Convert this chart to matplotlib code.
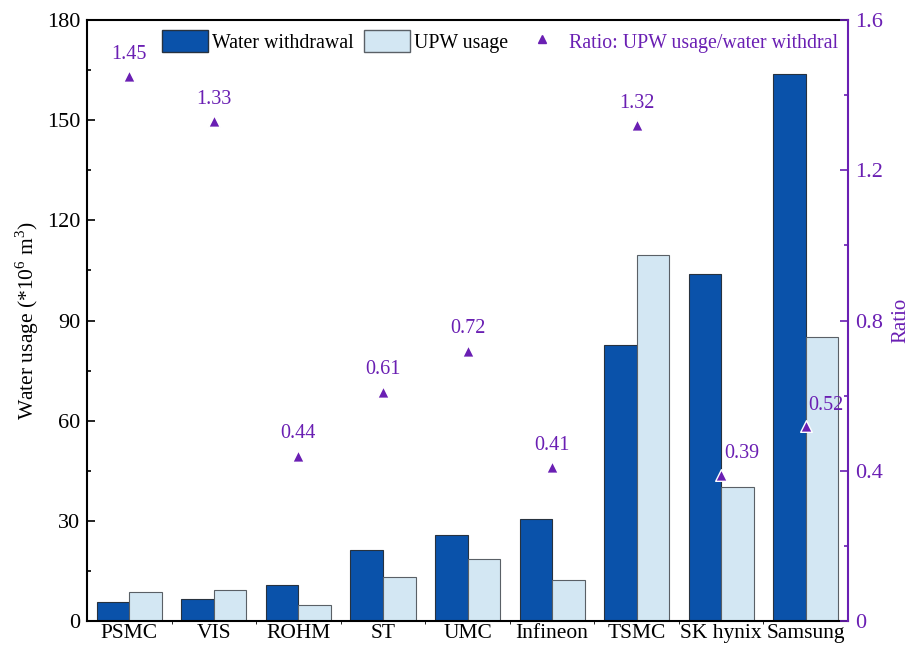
import numpy as np
import matplotlib.pyplot as plt
from matplotlib.lines import Line2D
from matplotlib.patches import Patch

plt.rcParams['font.family'] = ['Liberation Serif', 'DejaVu Serif']
plt.rcParams['mathtext.fontset'] = 'custom'
plt.rcParams['mathtext.rm'] = 'Liberation Serif'

# ===== 数据 =====
companies = ["PSMC", "VIS", "ROHM", "ST", "UMC", "Infineon", "TSMC", "SK hynix", "Samsung"]
withdrawal = [5.7, 6.6, 10.7, 21.4, 25.9, 30.5, 82.8, 104.0, 163.8]
upw_usage = [8.6, 9.2, 4.8, 13.1, 18.5, 12.3, 109.5, 40.0, 85.0]
ratio = [1.45, 1.33, 0.44, 0.61, 0.72, 0.41, 1.32, 0.39, 0.52]
ratio_labels = ["1.45", "1.33", "0.44", "0.61", "0.72", "0.41", "1.32", "0.39", "0.52"]

dark_blue = '#0a52aa'
light_blue = '#d3e7f3'
purple = '#6a1fb3'

fig = plt.figure(figsize=(9.13, 6.46), dpi=100)
ax = fig.add_axes([0.0953, 0.0387, 0.8335, 0.9303])
ax2 = ax.twinx()

x = np.arange(len(companies))
w = 0.385
ax.bar(x - w / 2, withdrawal, w, color=dark_blue, edgecolor='#27323f', linewidth=0.8, zorder=2)
ax.bar(x + w / 2, upw_usage, w, color=light_blue, edgecolor='#5a6066', linewidth=0.8, zorder=2)

ax.set_xlim(-0.5, len(companies) - 0.5)
ax.set_ylim(0, 180)
ax.set_yticks(np.arange(0, 181, 30))
ax.set_yticks(np.arange(15, 180, 30), minor=True)
ax.set_xticks(x)
ax.set_xticklabels(companies, fontsize=15.5)
ax.set_xticks(x[:-1] + 0.5, minor=True)
ax.tick_params(axis='x', which='major', length=0, pad=2)
ax.tick_params(axis='x', which='minor', length=2, direction='out')
ax.tick_params(axis='y', which='major', direction='in', length=6, width=1.2, labelsize=16, pad=5)
ax.tick_params(axis='y', which='minor', direction='in', length=3, width=1.2)
ax.set_ylabel("Water usage (*10$^6$ m$^3$)", fontsize=15.5, labelpad=4)
for s in ['left', 'bottom', 'top']:
    ax.spines[s].set_linewidth(1.5)
ax.spines['right'].set_visible(False)

# ===== 比值 =====
ax2.scatter(x, ratio, marker='^', s=70, color=purple, edgecolors='white', linewidths=1.0, zorder=5)
ax2.set_ylim(0, 1.6)
ax2.set_yticks(np.arange(0, 1.61, 0.4))
ax2.set_yticks(np.arange(0.2, 1.6, 0.4), minor=True)
ax2.set_yticklabels(["0", "0.4", "0.8", "1.2", "1.6"])
ax2.tick_params(axis='y', which='major', direction='in', length=6, width=1.2,
                labelsize=16, colors=purple, pad=5)
ax2.tick_params(axis='y', which='minor', direction='in', length=3, width=1.2, colors=purple)
ax2.spines['right'].set_color(purple)
ax2.spines['right'].set_linewidth(1.5)
for s in ['left', 'bottom', 'top']:
    ax2.spines[s].set_visible(False)
ax2.set_ylabel("Ratio", fontsize=15, color=purple, labelpad=6)

for i, (r, lab) in enumerate(zip(ratio, ratio_labels)):
    if companies[i] in ("SK hynix", "Samsung"):
        ax2.annotate(lab, (x[i], r), xytext=(2, 8), textcoords='offset points',
                     ha='left', va='bottom', fontsize=14.5, color=purple, zorder=6)
    else:
        ax2.annotate(lab, (x[i], r), xytext=(0, 9), textcoords='offset points',
                     ha='center', va='bottom', fontsize=14.5, color=purple, zorder=6)

handles = [Patch(facecolor=dark_blue, edgecolor='#27323f'),
           Patch(facecolor=light_blue, edgecolor='#5a6066'),
           Line2D([], [], marker='^', linestyle='', color=purple, markersize=6)]
labels = ["Water withdrawal", "UPW usage", "Ratio: UPW usage/water withdral"]
leg = ax2.legend(handles, labels, loc='upper right', ncol=3, frameon=False, fontsize=14.3,
                 bbox_to_anchor=(1.0, 1.0), handlelength=2.3, handleheight=1.3,
                 columnspacing=0.55, handletextpad=0.2, borderaxespad=0.12)
leg.get_texts()[2].set_color(purple)

fig.savefig("out.png", dpi=100)
